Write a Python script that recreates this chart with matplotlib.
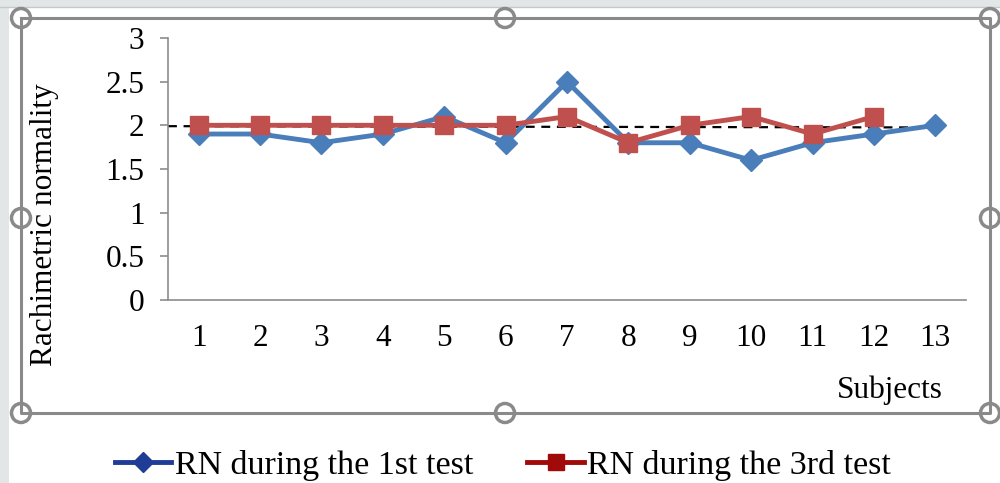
import matplotlib.pyplot as plt
from matplotlib.lines import Line2D
from matplotlib.patches import Circle, Rectangle

subjects = list(range(1, 14))
rn_test1 = [1.9, 1.9, 1.8, 1.9, 2.1, 1.8, 2.5, 1.8, 1.8, 1.6, 1.8, 1.9, 2.0]
rn_test3 = [2.0, 2.0, 2.0, 2.0, 2.0, 2.0, 2.1, 1.8, 2.0, 2.1, 1.9, 2.1]
trend_x = [0.5, 13.15]
trend_y = [1.99, 1.975]
yticks = [0, 0.5, 1, 1.5, 2, 2.5, 3]

plt.rcParams['font.family'] = ['Liberation Serif', 'DejaVu Serif']
FS = 22.5

fig = plt.figure(figsize=(10, 4.83), dpi=100)
fig.patch.set_facecolor('white')

# background strip and selection frame in pixel coordinates
bg = fig.add_axes([0, 0, 1, 1], zorder=0)
bg.set_xlim(0, 1000)
bg.set_ylim(483, 0)
bg.axis('off')
bg.add_patch(Rectangle((0, 0), 9, 483, color='#e2e6e7', lw=0))
bg.add_patch(Rectangle((0, 0), 1000, 7, color='#e2e6e7', lw=0))
bg.plot([0, 1000], [7, 7], color='#c4c8c9', lw=1)

ax = fig.add_axes([0.168, 0.379, 0.798, 0.5424], zorder=1)
ax.patch.set_alpha(0)

ax.plot(trend_x, trend_y, color='black', lw=1.6, ls=(0, (4, 3)), zorder=1)
ax.plot(subjects, rn_test1, color='#4a7ebb', lw=3.5, marker='D', ms=11, zorder=2)
ax.plot(subjects[:len(rn_test3)], rn_test3, color='#c0504d', lw=3.5, marker='s', ms=13, zorder=3)

ax.set_xlim(0.5, 13.5)
ax.set_ylim(0, 3)
ax.set_xticks(subjects)
ax.set_yticks(yticks)
ax.set_yticklabels(['0', '0.5', '1', '1.5', '2', '2.5', '3'])
for s in ['top', 'right']:
    ax.spines[s].set_visible(False)
for s in ['left', 'bottom']:
    ax.spines[s].set_color('#8c8c8c')
    ax.spines[s].set_linewidth(1.2)
ax.tick_params(axis='x', length=0, pad=17, labelsize=FS)
ax.tick_params(axis='y', length=6, width=1.2, color='#8c8c8c', pad=11, labelsize=FS)

fig.text(0.045, 0.534, 'Rachimetric normality', rotation=90, fontsize=FS,
         ha='center', va='center')
fig.text(0.943, 0.192, 'Subjects', fontsize=FS, ha='right', va='center')

# frame with handles drawn over everything
top = fig.add_axes([0, 0, 1, 1], zorder=3)
top.set_xlim(0, 1000)
top.set_ylim(483, 0)
top.axis('off')
top.patch.set_alpha(0)
fx = [21, 990]
fy = [18, 413]
top.plot([fx[0], fx[1], fx[1], fx[0], fx[0]], [fy[0], fy[0], fy[1], fy[1], fy[0]],
         color='#8a8a8a', lw=2.2)
for hx, hy in [(21, 18), (505, 18), (990, 18), (21, 218), (990, 218),
               (21, 413), (505, 413), (990, 413)]:
    top.add_patch(Circle((hx, hy), 9.5, facecolor='white', edgecolor='#8a8a8a', lw=2.5))

handles = [Line2D([], [], color='#1f3c96', lw=3.5, marker='D', ms=10),
           Line2D([], [], color='#a10a0a', lw=3.5, marker='s', ms=11)]
fig.legend(handles, ['RN during the 1st test', 'RN during the 3rd test'],
           loc='center', bbox_to_anchor=(0.503, 0.037), ncol=2, frameon=False,
           fontsize=24.5, handlelength=1.65, handletextpad=0.1, columnspacing=1.6)

fig.savefig('out.png', dpi=100)
